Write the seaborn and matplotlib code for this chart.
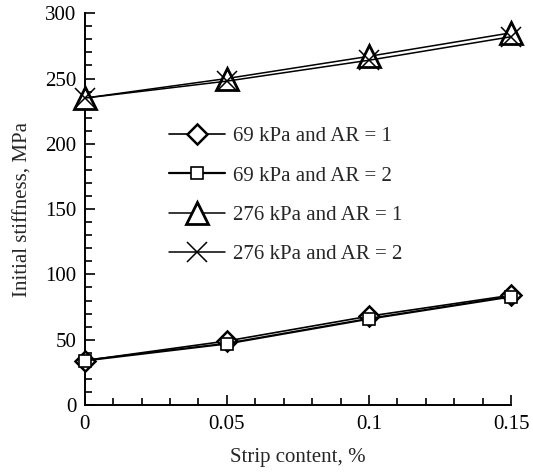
import numpy as np
import pandas as pd
import matplotlib
matplotlib.use("Agg")
import matplotlib.pyplot as plt
from matplotlib.ticker import MultipleLocator
import seaborn as sns

strip = [0.0, 0.05, 0.10, 0.15]
k69_ar1 = [34, 49, 68, 84]
k69_ar2 = [34, 47, 66, 83]
k276_ar1 = [235, 250, 267, 285]
k276_ar2 = [235, 248, 264, 282]
labels = ["69 kPa and AR = 1", "69 kPa and AR = 2",
          "276 kPa and AR = 1", "276 kPa and AR = 2"]

sns.set_style("ticks")
plt.rcParams["font.family"] = ["Liberation Serif", "DejaVu Serif"]

fig = plt.figure(figsize=(5.33, 4.72), dpi=100)
ax = fig.add_axes([0.159, 0.142, 0.8, 0.830])

series = [k69_ar1, k69_ar2, k276_ar1, k276_ar2]
styles = [
    dict(marker="D", markersize=10, markeredgewidth=1.8, linewidth=1.2),
    dict(marker="s", markersize=8, markeredgewidth=1.2, linewidth=1.6),
    dict(marker="^", markersize=16, markeredgewidth=2.0, linewidth=1.1),
    dict(marker="x", markersize=15, markeredgewidth=1.1, linewidth=1.1),
]
for vals, lab, st in zip(series, labels, styles):
    df = pd.DataFrame({"x": strip, "y": vals})
    sns.lineplot(data=df, x="x", y="y", ax=ax, color="black", label=lab,
                 markerfacecolor="white", markeredgecolor="black",
                 clip_on=False, zorder=3, **st)

ax.set_xlim(0, 0.15)
ax.set_ylim(0, 300)
ax.set_xticks([0, 0.05, 0.1, 0.15])
ax.set_xticklabels(["0", "0.05", "0.1", "0.15"])
ax.set_yticks(np.arange(0, 301, 50))
ax.xaxis.set_minor_locator(MultipleLocator(0.01))
ax.yaxis.set_minor_locator(MultipleLocator(10))
ax.tick_params(which="both", direction="in", colors="black", labelsize=15, width=1.2)
ax.tick_params(axis="y", which="major", length=7, pad=6)
ax.tick_params(axis="x", which="major", length=7, pad=7)
ax.tick_params(which="minor", length=5)
for s in ["top", "right"]:
    ax.spines[s].set_visible(False)
for s in ["left", "bottom"]:
    ax.spines[s].set_linewidth(1.4)
    ax.spines[s].set_color("black")

ax.set_xlabel("Strip content, %", fontsize=15, labelpad=10)
ax.set_ylabel("Initial stiffness, MPa", fontsize=15, labelpad=9)

ax.legend(loc="upper left", bbox_to_anchor=(0.172, 0.737), frameon=False,
          fontsize=15, handlelength=2.7, handletextpad=0.4, labelspacing=0.95,
          borderpad=0)

fig.savefig("out.png", dpi=100)
